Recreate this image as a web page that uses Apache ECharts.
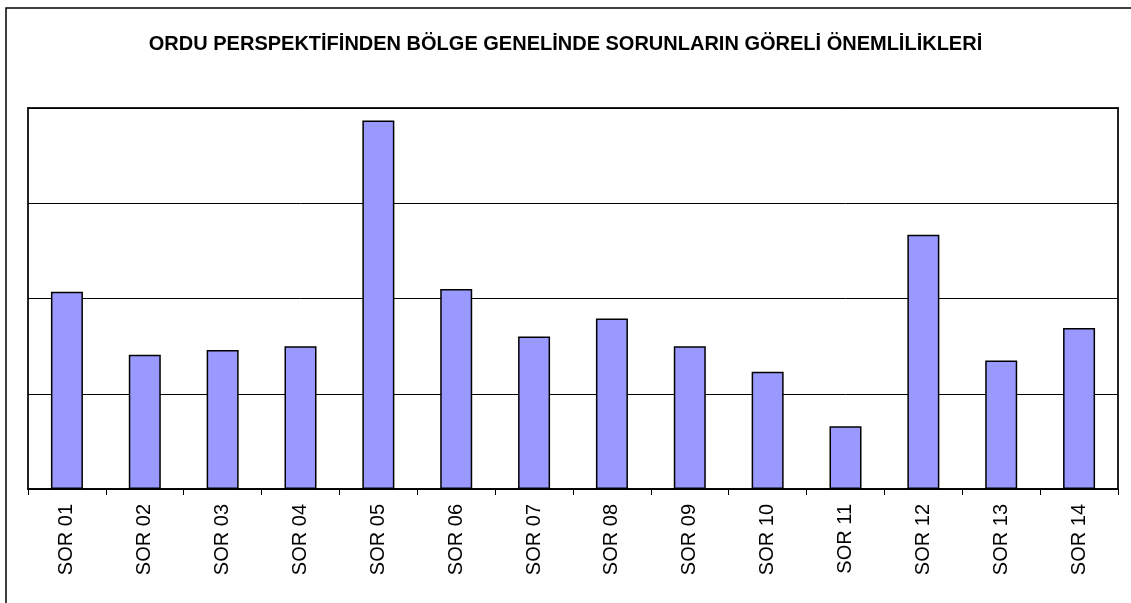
<!DOCTYPE html>
<html>
<head>
<meta charset="utf-8">
<script src="https://cdn.jsdelivr.net/npm/echarts@6/dist/echarts.min.js"></script>
<style>
  html, body { margin: 0; padding: 0; background: #fff; }
  #chart { width: 1131px; height: 603px; }
</style>
</head>
<body>
<div id="chart"></div>
<script>
  // sorun kodlari (x ekseni)
  const categories = ['SOR 01', 'SOR 02', 'SOR 03', 'SOR 04', 'SOR 05', 'SOR 06', 'SOR 07',
    'SOR 08', 'SOR 09', 'SOR 10', 'SOR 11', 'SOR 12', 'SOR 13', 'SOR 14'];
  // goreli onem degerleri (eksen 0-4)
  const values = [2.07, 1.41, 1.46, 1.50, 3.87, 2.10, 1.60, 1.79, 1.50, 1.23, 0.66, 2.67, 1.35, 1.69];
  const titleText = 'ORDU PERSPEKTİFİNDEN BÖLGE GENELİNDE SORUNLARIN GÖRELİ ÖNEMLİLİKLERİ';

  let chart = echarts.init(document.getElementById('chart'));
  let option = {
    animation: false,
    backgroundColor: '#fff',
    graphic: [{
      type: 'rect',
      shape: { x: 6, y: 8, width: 1140, height: 620 },
      style: { fill: 'none', stroke: '#000', lineWidth: 1.5 },
      silent: true
    }],
    title: {
      text: titleText,
      left: 'center',
      top: 29,
      textStyle: {
        fontFamily: 'Liberation Sans, Arial',
        fontWeight: 'bold',
        fontSize: 20,
        color: '#000'
      }
    },
    grid: {
      left: 28,
      right: 13,
      top: 108,
      bottom: 114,
      show: true,
      borderColor: '#222',
      borderWidth: 2,
      backgroundColor: '#fff'
    },
    xAxis: {
      type: 'category',
      data: categories,
      axisLine: { lineStyle: { color: '#000', width: 1.5 } },
      axisTick: { show: true, length: 6, lineStyle: { color: '#000' } },
      axisLabel: {
        rotate: 90,
        margin: 15,
        interval: 0,
        fontFamily: 'Liberation Sans, Arial',
        fontSize: 20,
        color: '#000'
      }
    },
    yAxis: {
      type: 'value',
      min: 0,
      max: 4,
      interval: 1,
      axisLine: { show: false },
      axisTick: { show: false },
      axisLabel: { show: false },
      splitLine: { lineStyle: { color: '#000', width: 1 } }
    },
    series: [{
      type: 'bar',
      data: values,
      barWidth: 32,
      itemStyle: {
        color: '#9999ff',
        borderColor: '#000',
        borderWidth: 1.5
      }
    }]
  };
  chart.setOption(option);
</script>
</body>
</html>
